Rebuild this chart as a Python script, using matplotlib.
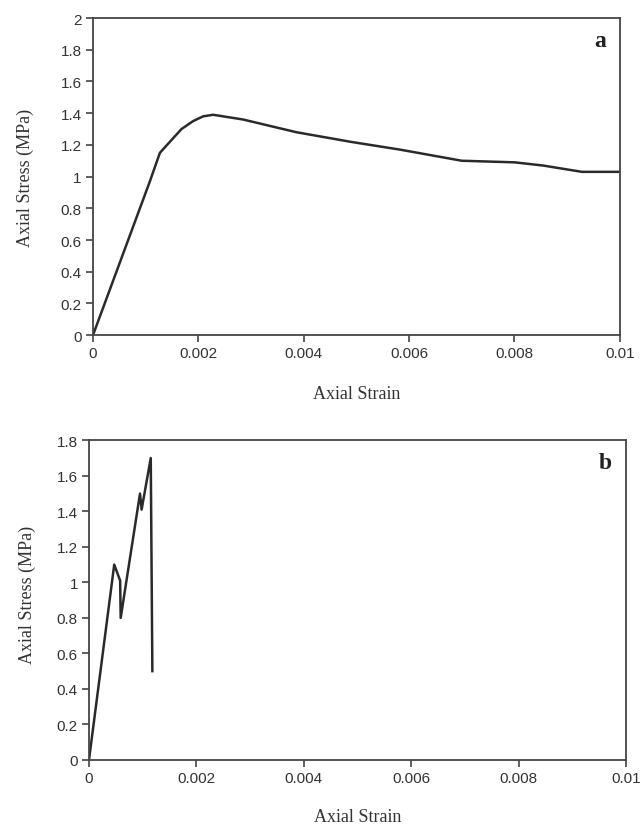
import numpy as np
import matplotlib.pyplot as plt
from matplotlib.ticker import FuncFormatter

# panel a: ductile-like curve
strain_a = [0.0, 0.00108, 0.00127, 0.00168, 0.0019, 0.00209, 0.00228, 0.00285,
            0.00386, 0.00488, 0.00583, 0.0070, 0.0080, 0.00854, 0.00928, 0.0100]
stress_a = [0.0, 0.97, 1.15, 1.30, 1.35, 1.38, 1.39, 1.36,
            1.28, 1.22, 1.17, 1.10, 1.09, 1.07, 1.03, 1.03]

# panel b: brittle curve
strain_b = [0.0, 0.00047, 0.00058, 0.00059, 0.00095, 0.00098, 0.00115, 0.00118]
stress_b = [0.0, 1.10, 1.01, 0.80, 1.50, 1.41, 1.70, 0.50]

xticks = [0, 0.002, 0.004, 0.006, 0.008, 0.01]
yticks_a = np.arange(0, 2.01, 0.2)
yticks_b = np.arange(0, 1.81, 0.2)

tickfont = 'Liberation Sans'
labfont = 'Liberation Serif'
fmt = FuncFormatter(lambda v, p: '%g' % round(v, 4))

fig = plt.figure(figsize=(6.43, 8.28), dpi=100)
ax1 = fig.add_axes([0.1446, 0.594, 0.8194, 0.383])
ax2 = fig.add_axes([0.1384, 0.081, 0.8352, 0.386])

def estilo(ax, yt, ymax, letra, xlab_y, ylab_x, ylab_y):
	ax.set_xlim(0, 0.01)
	ax.set_ylim(0, ymax)
	ax.set_xticks(xticks)
	ax.set_yticks(yt)
	ax.xaxis.set_major_formatter(fmt)
	ax.yaxis.set_major_formatter(fmt)
	ax.tick_params(direction='out', length=5, width=1.2, color='#444444', labelsize=11, pad=3, labelcolor='#333333')
	for lab in ax.get_xticklabels() + ax.get_yticklabels():
		lab.set_fontfamily(tickfont)
	for s in ax.spines.values():
		s.set_linewidth(1.3)
		s.set_color('#444444')
	ax.set_xlabel('Axial Strain', family=labfont, fontsize=13, color='#333333', va='center')
	ax.set_ylabel('Axial Stress (MPa)', family=labfont, fontsize=13, color='#333333', va='center')
	ax.xaxis.set_label_coords(0.5, xlab_y)
	ax.yaxis.set_label_coords(ylab_x, ylab_y)
#	letra do painel
	ax.text(0.973, 0.93, letra, transform=ax.transAxes, family=labfont, fontweight='bold',
		fontsize=17, ha='right', va='center', color='#222222')

ax1.plot(strain_a, stress_a, color='#2a2a2a', lw=1.8)
estilo(ax1, yticks_a, 2, 'a', -0.185, -0.129, 0.5)

ax2.plot(strain_b, stress_b, color='#2a2a2a', lw=1.8)
estilo(ax2, yticks_b, 1.8, 'b', -0.178, -0.115, 0.52)

fig.savefig('out.png', dpi=100, facecolor='white')
